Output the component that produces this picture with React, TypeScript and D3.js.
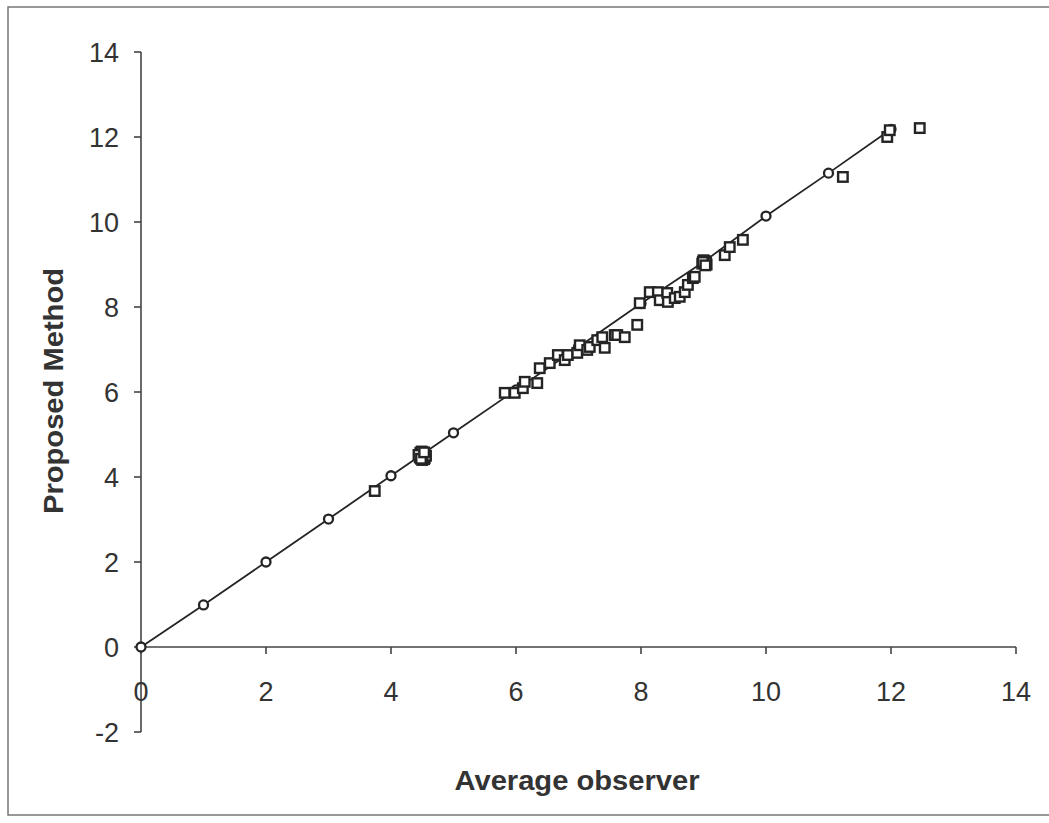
import React from "react";
import * as d3 from "d3";

const xTicks = [0, 2, 4, 6, 8, 10, 12, 14];
const yTicks = [-2, 0, 2, 4, 6, 8, 10, 12, 14];

// Reference line series (open circles joined by a line)
const lineX = [0, 1, 2, 3, 4, 5, 6, 7, 8, 9, 10, 11, 12];
const lineY = [0, 0.99, 2.0, 3.01, 4.03, 5.04, 6.05, 7.06, 8.08, 9.06, 10.14, 11.15, 12.18];

// Observations (open squares)
const obsX = [
  3.74, 4.46, 4.5, 4.54, 4.5, 4.47, 4.53, 4.49, 4.52, 4.47, 4.44, 4.56, 4.5, 4.48, 4.53,
  5.82, 5.98, 6.11, 6.14, 6.34, 6.38, 6.54, 6.67, 6.78, 6.83, 6.98, 7.02, 7.14, 7.18, 7.3, 7.42,
  7.38, 7.58, 7.62, 7.74, 7.94, 7.98, 8.14, 8.27, 8.3, 8.42, 8.43, 8.54, 8.62, 8.7, 8.75, 8.83, 8.86,
  8.98, 9.02, 9.05, 9.0, 9.04, 8.99, 9.03, 9.34, 9.42, 9.63, 11.23, 11.94, 11.98, 12.46,
];
const obsY = [
  3.67, 4.46, 4.55, 4.45, 4.5, 4.57, 4.42, 4.6, 4.52, 4.5, 4.52, 4.5, 4.4, 4.43, 4.58,
  5.98, 5.98, 6.09, 6.24, 6.21, 6.56, 6.68, 6.87, 6.75, 6.87, 6.92, 7.1, 6.99, 7.06, 7.22, 7.04,
  7.29, 7.34, 7.34, 7.29, 7.58, 8.09, 8.35, 8.35, 8.16, 8.33, 8.12, 8.21, 8.24, 8.35, 8.52, 8.68, 8.71,
  9.02, 9.08, 9.0, 9.1, 9.04, 9.06, 8.98, 9.22, 9.41, 9.58, 11.06, 12.0, 12.16, 12.21,
];

const xTitle = "Average observer";
const yTitle = "Proposed Method";

export default function App() {
  const W = 1049;
  const H = 823;
  const x = d3.scaleLinear().domain([0, 14]).range([141, 1016]);
  const y = d3.scaleLinear().domain([-2, 14]).range([732, 52]);
  const ink = "#242424";
  const axisCol = "#444";
  const font = "'Liberation Sans', Arial, sans-serif";

  const linePath = d3
    .line<number>()
    .x((_, i) => x(lineX[i]))
    .y((_, i) => y(lineY[i]))(lineX.map((v) => v)) as string;

  const s = 9.5;

  return (
    <svg
      width={W}
      height={H}
      style={{ position: "absolute", left: 0, top: 0, background: "#fff" }}
    >
      <rect x={0} y={0} width={W} height={H} fill="#fff" />
      <rect x={8} y={7} width={1060} height={808} fill="none" stroke="#777" strokeWidth={1.5} />

      {/* y axis */}
      <line x1={x(0)} x2={x(0)} y1={y(14)} y2={y(-2)} stroke={axisCol} strokeWidth={1.6} />
      {yTicks.map((t) => (
        <g key={"yt" + t}>
          <line x1={x(0) - 7} x2={x(0)} y1={y(t)} y2={y(t)} stroke={axisCol} strokeWidth={1.6} />
          <text
            x={x(0) - 22}
            y={y(t)}
            dy="0.36em"
            textAnchor="end"
            fontFamily={font}
            fontSize={27}
            fill="#333"
          >
            {t}
          </text>
        </g>
      ))}

      {/* x axis */}
      <line x1={x(0)} x2={x(14)} y1={y(0)} y2={y(0)} stroke={axisCol} strokeWidth={1.6} />
      {xTicks.map((t) => (
        <g key={"xt" + t}>
          <line x1={x(t)} x2={x(t)} y1={y(0)} y2={y(0) + 7} stroke={axisCol} strokeWidth={1.6} />
          <text
            x={x(t)}
            y={y(0) + 54}
            textAnchor="middle"
            fontFamily={font}
            fontSize={27}
            fill="#333"
          >
            {t}
          </text>
        </g>
      ))}

      {/* line series */}
      <path d={linePath} fill="none" stroke={ink} strokeWidth={1.8} />
      {lineX.map((v, i) => (
        <circle
          key={"c" + i}
          cx={x(v)}
          cy={y(lineY[i])}
          r={4.5}
          fill="#fff"
          stroke={ink}
          strokeWidth={2.3}
        />
      ))}

      {/* observations */}
      {obsX.map((v, i) => (
        <rect
          key={"s" + i}
          x={x(v) - s / 2}
          y={y(obsY[i]) - s / 2}
          width={s}
          height={s}
          fill="#fff"
          stroke={ink}
          strokeWidth={2.4}
        />
      ))}

      <text
        x={577}
        y={790}
        textAnchor="middle"
        fontFamily={font}
        fontWeight="bold"
        fontSize={27}
        textLength={245}
        lengthAdjust="spacingAndGlyphs"
        fill="#333"
      >
        {xTitle}
      </text>
      <text
        transform={`translate(63,391) rotate(-90)`}
        textAnchor="middle"
        fontFamily={font}
        fontWeight="bold"
        fontSize={27}
        textLength={246}
        lengthAdjust="spacingAndGlyphs"
        fill="#333"
      >
        {yTitle}
      </text>
    </svg>
  );
}
